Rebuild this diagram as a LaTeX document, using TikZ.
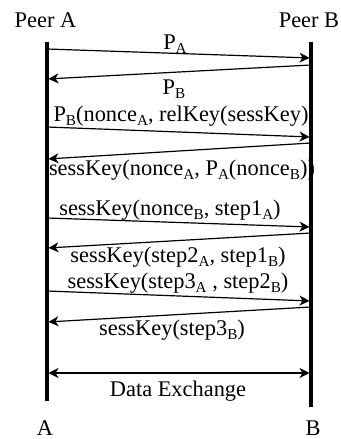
\documentclass[tikz,border=0pt]{standalone}
\usepackage{fontspec}
\setmainfont{Liberation Serif}
\usetikzlibrary{arrows.meta}
\newcommand{\sub}[1]{\raisebox{-2.2pt}{\fontsize{7.6}{8}\selectfont #1}}
\tikzset{
  lifeline/.style={line width=1.6pt},
  tip/.tip={Stealth[length=5pt,width=5pt,inset=1.5pt]},
  msg/.style={line width=0.6pt,-tip,shorten >=0.75pt,shorten <=0.75pt},
  dmsg/.style={line width=0.6pt,tip-tip,shorten >=0.75pt,shorten <=0.75pt},
  lbl/.style={anchor=base,inner sep=0pt,font=\fontsize{11.2}{13}\selectfont}
}
\begin{document}
\begin{tikzpicture}[x=0.5pt,y=-0.5pt]
\useasboundingbox[fill=white] (0,0) rectangle (341,439);
% headers and footers
\node[lbl] (peerA) at (45.5,27) {Peer A};
\node[lbl] (peerB) at (309,27) {Peer B};
\node[lbl] (A) at (45,435) {A};
\node[lbl] (B) at (313,435) {B};
% lifelines
\coordinate (atop) at (47,42);
\coordinate (abot) at (47,401);
\coordinate (btop) at (311,42);
\coordinate (bbot) at (311,407);
\draw[lifeline] (atop) -- (abot);
\draw[lifeline] (btop) -- (bbot);
% message endpoints
\coordinate (a1) at (47,49);   \coordinate (b1) at (311,58);
\coordinate (b2) at (311,65);  \coordinate (a2) at (47,79);
\coordinate (a3) at (47,127);  \coordinate (b3) at (311,137);
\coordinate (b4) at (311,143); \coordinate (a4) at (47,159);
\coordinate (a5) at (47,218);  \coordinate (b5) at (311,227);
\coordinate (b6) at (311,233); \coordinate (a6) at (47,248);
\coordinate (a7) at (47,291);  \coordinate (b7) at (311,301);
\coordinate (b8) at (311,307); \coordinate (a8) at (47,322);
\coordinate (a9) at (47,373);  \coordinate (b9) at (311,373);
\draw[msg] (a1) -- (b1);
\draw[msg] (b2) -- (a2);
\draw[msg] (a3) -- (b3);
\draw[msg] (b4) -- (a4);
\draw[msg] (a5) -- (b5);
\draw[msg] (b6) -- (a6);
\draw[msg] (a7) -- (b7);
\draw[msg] (b8) -- (a8);
\draw[dmsg] (a9) -- (b9);
% labels
\node[lbl] (l1) at (175,49.5) {P\sub{A}};
\node[lbl] (l2) at (174,94) {P\sub{B}};
\node[lbl] (l3) at (181,121) {P\sub{B}(nonce\sub{A}, relKey(sessKey)};
\node[lbl] (l4) at (182,175) {sessKey(nonce\sub{A}, P\sub{A}(nonce\sub{B}))};
\node[lbl] (l5) at (170,215) {sessKey(nonce\sub{B}, step1\sub{A})};
\node[lbl] (l6) at (178,262.5) {sessKey(step2\sub{A}, step1\sub{B})};
\node[lbl] (l7) at (178,288) {sessKey(step3\sub{A} , step2\sub{B})};
\node[lbl] (l8) at (172,335) {sessKey(step3\sub{B})};
\node[lbl] (l9) at (178,396.5) {Data Exchange};
\end{tikzpicture}
\end{document}
